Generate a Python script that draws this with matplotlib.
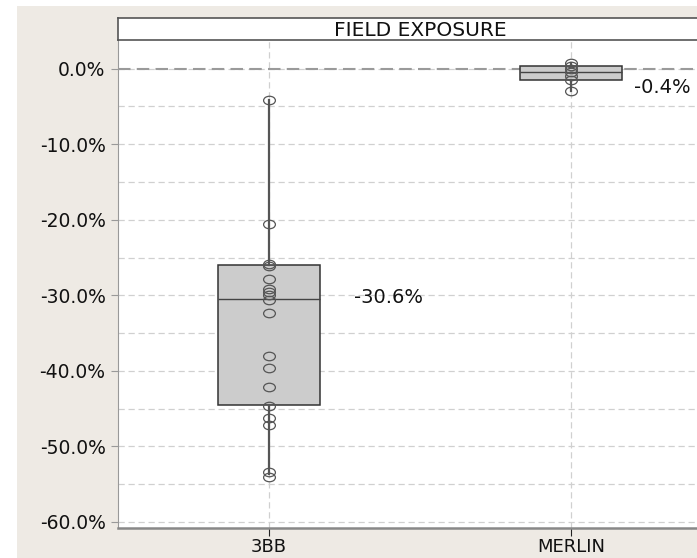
import matplotlib
matplotlib.use("Agg")
import matplotlib.pyplot as plt
import matplotlib.path as mpath
import matplotlib.transforms as mtrans
from matplotlib.patches import Rectangle
from matplotlib.ticker import MultipleLocator, FuncFormatter

# values (percent)
categories = ["3BB", "MERLIN"]
points_3bb = [-4.2, -20.6, -25.8, -26.1, -27.8, -29.1, -29.5, -30.0, -30.6,
              -32.4, -38.0, -39.6, -42.2, -44.6, -46.2, -47.2, -53.4, -54.0]
points_merlin = [0.8, 0.4, 0.0, -0.5, -1.0, -1.5, -2.9]
box_q1 = [-44.5, -1.5]
box_med = [-30.5, -0.5]
box_q3 = [-26.0, 0.4]
whisker_lo = [-53.6, -2.9]
whisker_hi = [-4.2, 0.8]
label_text = ["-30.6%", "-0.4%"]
label_y = [-30.3, -2.5]

beige = "#EEEAE4"
fig = plt.figure(figsize=(6.97, 5.58), dpi=100)
fig.patch.set_facecolor("white")
fig.patches.append(Rectangle((17 / 697, 0), 1, 1 - 6 / 558, transform=fig.transFigure,
                             facecolor=beige, edgecolor="none", zorder=-10))

ax = fig.add_axes([118 / 697, 1 - 528 / 558, 604 / 697, 488 / 558])
ax.set_facecolor("white")

stats = []
for i in range(len(categories)):
    stats.append({"med": box_med[i], "q1": box_q1[i], "q3": box_q3[i],
                  "whislo": whisker_lo[i], "whishi": whisker_hi[i], "fliers": []})
ax.bxp(stats, positions=[0, 1], widths=0.335, patch_artist=True, showcaps=False,
       boxprops=dict(facecolor="#CCCCCC", edgecolor="#333333", linewidth=1.1),
       medianprops=dict(color="#444444", linewidth=1.0),
       whiskerprops=dict(color="#555555", linewidth=1.6), zorder=3)

# ellipse marker (wider than tall)
ell = mpath.Path.unit_circle().transformed(mtrans.Affine2D().scale(1.0, 0.72))
for i, pts in enumerate([points_3bb, points_merlin]):
    ax.plot([i] * len(pts), pts, linestyle="none", marker=ell, markersize=8.5,
            markerfacecolor="none", markeredgecolor="#555555", markeredgewidth=0.9, zorder=4)

for i in range(len(categories)):
    xoff = 0.28 if i == 0 else 0.21
    ax.text(i + xoff, label_y[i], label_text[i], fontsize=14, color="#111111",
            va="center", ha="left", zorder=5)

ax.set_xlim(-0.5, 1.5)
ax.set_ylim(-60.8, 3.8)
ax.yaxis.set_major_locator(MultipleLocator(10))
ax.yaxis.set_minor_locator(MultipleLocator(5))
ax.yaxis.set_major_formatter(FuncFormatter(lambda v, p: "%.1f%%" % v))
ax.set_xticks([0, 1])
ax.set_xticklabels(categories)

ax.grid(True, which="both", axis="y", color="#D0D0D0", linestyle=(0, (5, 3)), linewidth=0.9, zorder=0)
ax.grid(True, which="major", axis="x", color="#D0D0D0", linestyle=(0, (5, 3)), linewidth=0.9, zorder=0)
ax.axhline(0, color="#9A9A9A", linestyle=(0, (6, 3)), linewidth=1.5, zorder=1)
ax.set_axisbelow(True)

ax.tick_params(axis="y", which="major", length=5, color="#999999", labelsize=13.5, labelcolor="#111111", pad=4)
ax.tick_params(axis="y", which="minor", length=0)
ax.tick_params(axis="x", length=6, color="#222222", labelsize=13, labelcolor="#111111", pad=1)
for s in ["top", "right"]:
    ax.spines[s].set_visible(False)
ax.spines["left"].set_color("#999999")
ax.spines["bottom"].set_color("#888888")
ax.spines["bottom"].set_linewidth(1.8)

# title box
tax = fig.add_axes([118 / 697, 1 - 40 / 558, 604 / 697, 22 / 558])
tax.set_facecolor("white")
tax.set_xticks([])
tax.set_yticks([])
for s in tax.spines.values():
    s.set_color("#555555")
    s.set_linewidth(1.2)
tax.text(0.5, 0.45, "FIELD EXPOSURE", transform=tax.transAxes, ha="center", va="center",
         fontsize=14.5, color="#111111")

fig.savefig("out.png", dpi=100, facecolor=fig.get_facecolor())
